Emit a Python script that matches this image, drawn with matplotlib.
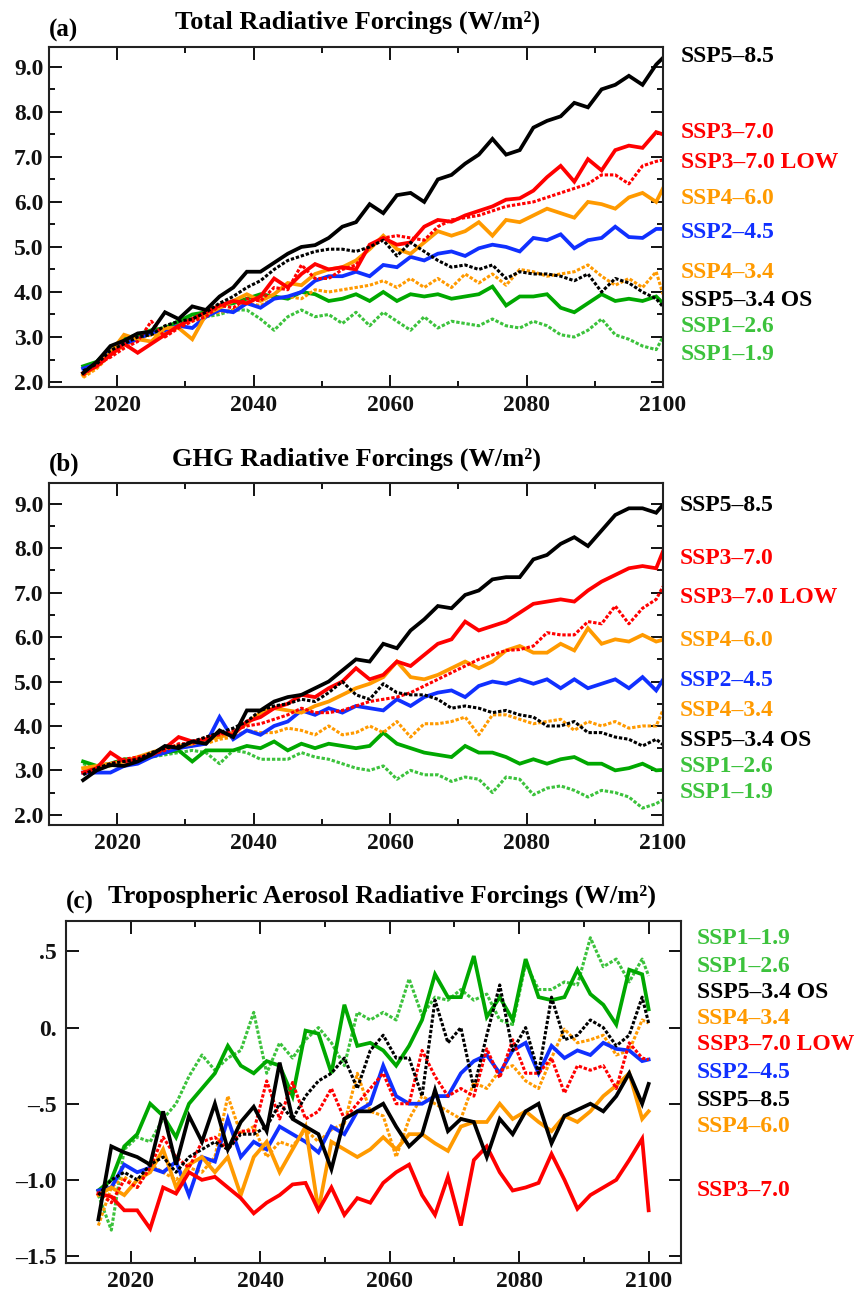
import matplotlib
matplotlib.use("Agg")
import matplotlib.pyplot as plt
from matplotlib.ticker import MultipleLocator, FixedLocator, FixedFormatter

plt.rcParams['font.family'] = ['Liberation Serif', 'DejaVu Serif']
plt.rcParams['font.weight'] = 'bold'

# ---------------- data ----------------
years = list(range(2015, 2100, 2)) + [2100]

# (a) Total radiative forcing
tot_ssp585 = [2.2, 2.45, 2.8, 2.92, 3.08, 3.12, 3.55, 3.4, 3.68, 3.6, 3.9, 4.1, 4.45,
              4.45, 4.65, 4.85, 5.0, 5.04, 5.2, 5.45, 5.55, 5.95, 5.75, 6.15, 6.2, 6.0, 6.5, 6.6,
              6.85, 7.05, 7.4, 7.05, 7.15, 7.65, 7.8, 7.9, 8.2, 8.1, 8.5, 8.6, 8.8, 8.6, 9.05, 9.2]
tot_ssp370 = [2.2, 2.35, 2.6, 2.85, 2.65, 2.85, 3.05, 3.25, 3.4, 3.55, 3.7, 3.8, 3.75,
              3.9, 4.3, 4.1, 4.4, 4.62, 4.5, 4.55, 4.5, 5.05, 5.2, 5.05, 5.1, 5.45, 5.6, 5.56,
              5.7, 5.8, 5.9, 6.05, 6.08, 6.25, 6.55, 6.8, 6.45, 6.95, 6.7, 7.15, 7.25, 7.2, 7.55, 7.5]
tot_ssp370low = [2.15, 2.4, 2.55, 2.75, 2.9, 3.35, 3.0, 3.2, 3.35, 3.45, 3.7, 3.65, 3.85,
                 3.8, 4.1, 4.05, 4.6, 4.3, 4.3, 4.5, 4.6, 5.0, 5.2, 5.25, 5.2, 5.15, 5.45, 5.6,
                 5.65, 5.7, 5.8, 5.9, 5.95, 6.0, 6.1, 6.2, 6.3, 6.4, 6.6, 6.6, 6.4, 6.8, 6.9, 6.93]
tot_ssp460 = [2.15, 2.35, 2.65, 3.05, 2.95, 2.9, 3.2, 3.2, 2.95, 3.5, 3.65, 3.8, 3.95,
              3.8, 3.95, 4.2, 4.15, 4.4, 4.5, 4.55, 4.7, 4.95, 5.25, 4.95, 4.85, 5.1, 5.35, 5.25,
              5.35, 5.55, 5.25, 5.6, 5.55, 5.7, 5.85, 5.75, 5.65, 6.0, 5.95, 5.85, 6.1, 6.2, 6.0, 6.3]
tot_ssp245 = [2.3, 2.4, 2.7, 2.85, 2.95, 3.1, 3.15, 3.25, 3.2, 3.45, 3.6, 3.55, 3.75,
              3.65, 3.85, 3.9, 4.0, 4.25, 4.35, 4.35, 4.45, 4.35, 4.6, 4.55, 4.78, 4.7, 4.85, 4.9,
              4.8, 4.97, 5.05, 5.0, 4.9, 5.2, 5.15, 5.28, 4.97, 5.15, 5.2, 5.45, 5.22, 5.2, 5.4, 5.4]
tot_ssp434 = [2.1, 2.3, 2.6, 2.8, 2.95, 3.05, 3.1, 3.25, 3.35, 3.5, 3.55, 3.6, 3.75,
              3.7, 3.85, 3.9, 3.85, 4.05, 4.0, 4.05, 4.1, 4.15, 4.25, 4.1, 4.3, 4.1, 4.3, 4.1,
              4.4, 4.2, 4.4, 4.15, 4.5, 4.45, 4.35, 4.4, 4.45, 4.6, 4.35, 4.15, 4.3, 4.1, 4.45, 3.95]
tot_ssp534os = [2.25, 2.4, 2.7, 2.85, 3.0, 3.05, 3.25, 3.35, 3.4, 3.55, 3.75, 3.9, 4.1,
                4.25, 4.5, 4.7, 4.8, 4.9, 4.95, 4.95, 4.9, 5.0, 5.15, 4.8, 5.1, 4.9, 4.7, 4.55,
                4.6, 4.5, 4.6, 4.3, 4.45, 4.4, 4.4, 4.35, 4.25, 4.4, 4.0, 4.3, 4.2, 4.0, 3.85, 3.67]
tot_ssp126 = [2.35, 2.45, 2.75, 2.95, 3.05, 3.15, 3.2, 3.35, 3.5, 3.55, 3.7, 3.75, 3.85,
              3.95, 3.9, 3.85, 4.0, 3.95, 3.8, 3.85, 3.95, 3.8, 4.0, 3.8, 3.95, 3.9, 3.95, 3.85,
              3.9, 3.95, 4.12, 3.7, 3.9, 3.9, 3.95, 3.65, 3.55, 3.75, 3.95, 3.8, 3.85, 3.8, 3.9, 3.75]
tot_ssp119 = [2.3, 2.45, 2.7, 2.9, 3.0, 3.1, 3.2, 3.3, 3.4, 3.45, 3.5, 3.6, 3.6,
              3.4, 3.15, 3.45, 3.6, 3.45, 3.5, 3.3, 3.55, 3.25, 3.55, 3.35, 3.15, 3.45, 3.2, 3.35,
              3.3, 3.25, 3.4, 3.25, 3.2, 3.35, 3.25, 3.05, 3.0, 3.15, 3.4, 3.05, 2.95, 2.8, 2.72, 3.0]

# (b) GHG radiative forcing
ghg_ssp585 = [2.78, 3.0, 3.12, 3.1, 3.2, 3.35, 3.55, 3.5, 3.65, 3.6, 3.9, 3.75, 4.35,
              4.35, 4.55, 4.65, 4.7, 4.85, 5.0, 5.25, 5.5, 5.45, 5.85, 5.75, 6.15, 6.4, 6.7, 6.65,
              6.95, 7.05, 7.3, 7.35, 7.35, 7.75, 7.85, 8.1, 8.25, 8.05, 8.4, 8.75, 8.9, 8.9, 8.8, 8.98]
ghg_ssp370 = [2.95, 3.05, 3.4, 3.2, 3.25, 3.35, 3.5, 3.75, 3.65, 3.7, 3.85, 3.8, 4.1,
              4.2, 4.4, 4.5, 4.7, 4.65, 4.85, 5.0, 5.3, 5.05, 5.15, 5.45, 5.35, 5.6, 5.85, 5.95,
              6.35, 6.15, 6.25, 6.35, 6.55, 6.75, 6.8, 6.85, 6.8, 7.05, 7.25, 7.4, 7.55, 7.6, 7.55, 7.93]
ghg_ssp370low = [2.95, 3.0, 3.15, 3.25, 3.3, 3.35, 3.45, 3.6, 3.6, 3.75, 3.8, 3.9, 4.0,
                 4.05, 4.15, 4.25, 4.4, 4.3, 4.3, 4.35, 4.45, 4.55, 4.6, 4.65, 4.75, 4.9, 5.05, 5.2,
                 5.35, 5.5, 5.6, 5.7, 5.72, 5.8, 6.1, 6.05, 6.05, 6.35, 6.3, 6.7, 6.3, 6.65, 6.85, 7.14]
ghg_ssp460 = [3.05, 3.1, 3.15, 3.2, 3.3, 3.4, 3.5, 3.55, 3.6, 3.7, 3.75, 3.85, 4.05,
              4.3, 4.4, 4.35, 4.3, 4.45, 4.55, 4.7, 4.85, 4.95, 5.1, 5.45, 5.1, 5.05, 5.15, 5.3,
              5.45, 5.3, 5.45, 5.7, 5.8, 5.65, 5.65, 5.85, 5.7, 6.2, 5.85, 5.95, 5.9, 6.05, 5.9, 5.94]
ghg_ssp245 = [2.95, 2.95, 2.95, 3.1, 3.15, 3.3, 3.4, 3.5, 3.55, 3.6, 4.2, 3.7, 3.9,
              3.8, 4.0, 4.1, 4.35, 4.25, 4.4, 4.3, 4.45, 4.4, 4.35, 4.6, 4.45, 4.65, 4.75, 4.8,
              4.65, 4.9, 5.0, 4.95, 5.05, 4.95, 5.05, 4.85, 5.05, 4.85, 4.95, 5.05, 4.85, 5.1, 4.8, 5.04]
ghg_ssp434 = [3.0, 3.05, 3.1, 3.15, 3.25, 3.35, 3.4, 3.5, 3.55, 3.6, 3.7, 3.75, 3.9,
              3.85, 3.85, 3.95, 3.9, 3.8, 4.0, 3.8, 3.85, 4.0, 3.85, 4.1, 3.75, 4.05, 4.05, 4.1,
              4.2, 3.8, 4.25, 4.25, 4.15, 4.05, 4.1, 4.15, 3.9, 4.1, 4.0, 4.1, 3.95, 4.0, 4.0, 4.36]
ghg_ssp534os = [2.9, 3.05, 3.15, 3.2, 3.25, 3.4, 3.5, 3.55, 3.65, 3.75, 3.85, 3.95, 4.1,
                4.35, 4.45, 4.5, 4.6, 4.55, 4.75, 5.0, 4.7, 4.6, 4.95, 4.75, 4.7, 4.7, 4.6, 4.4,
                4.45, 4.4, 4.3, 4.35, 4.25, 4.2, 4.0, 4.0, 4.1, 3.85, 3.85, 3.75, 3.7, 3.55, 3.7, 3.58]
ghg_ssp126 = [3.2, 3.1, 3.15, 3.25, 3.25, 3.35, 3.4, 3.45, 3.2, 3.45, 3.45, 3.45, 3.55,
              3.5, 3.65, 3.45, 3.6, 3.5, 3.6, 3.55, 3.5, 3.55, 3.85, 3.6, 3.5, 3.4, 3.35, 3.3,
              3.55, 3.4, 3.4, 3.3, 3.15, 3.25, 3.15, 3.25, 3.3, 3.15, 3.15, 3.0, 3.05, 3.15, 3.0, 3.01]
ghg_ssp119 = [3.15, 3.05, 3.1, 3.2, 3.25, 3.3, 3.35, 3.4, 3.45, 3.4, 3.15, 3.45, 3.4,
              3.25, 3.25, 3.25, 3.4, 3.3, 3.25, 3.15, 3.05, 3.0, 3.1, 2.8, 3.0, 2.9, 2.9, 2.75,
              2.85, 2.8, 2.5, 2.85, 2.8, 2.45, 2.6, 2.65, 2.55, 2.4, 2.55, 2.5, 2.4, 2.15, 2.25, 2.34]

# (c) Tropospheric aerosol radiative forcing
aer_ssp119 = [-1.1, -1.33, -0.8, -0.72, -0.75, -0.6, -0.5, -0.32, -0.18, -0.28, -0.2, -0.15, 0.1,
              -0.3, -0.1, -0.2, -0.08, 0.0, -0.1, -0.25, 0.1, 0.05, 0.1, 0.05, 0.32, 0.08, 0.2, 0.18,
              0.25, 0.18, 0.22, 0.05, 0.02, 0.42, 0.25, 0.25, 0.3, 0.28, 0.59, 0.4, 0.45, 0.3, 0.45, 0.34]
aer_ssp126 = [-1.07, -1.0, -0.78, -0.7, -0.5, -0.58, -0.72, -0.5, -0.4, -0.3, -0.12, -0.25, -0.3,
              -0.22, -0.25, -0.45, -0.02, -0.04, -0.3, 0.15, -0.12, -0.1, -0.15, -0.25, -0.12, 0.05, 0.35, 0.2,
              0.2, 0.47, 0.07, 0.2, 0.05, 0.45, 0.2, 0.18, 0.2, 0.38, 0.22, 0.15, 0.02, 0.38, 0.35, 0.12]
aer_ssp534os = [-1.1, -1.0, -0.95, -1.0, -0.9, -0.85, -0.95, -0.85, -0.8, -0.75, -0.8, -0.7, -0.7,
                -0.65, -0.5, -0.6, -0.45, -0.35, -0.3, -0.2, -0.4, -0.15, -0.05, -0.2, -0.2, -0.45, 0.18, -0.1,
                0.0, -0.4, -0.05, 0.28, -0.15, 0.0, -0.3, 0.2, -0.08, -0.05, 0.05, 0.0, -0.12, -0.05, 0.2, 0.03]
aer_ssp434 = [-1.3, -1.05, -0.98, -1.05, -0.9, -0.95, -1.0, -0.92, -0.95, -0.85, -0.45, -0.7, -0.65,
              -0.85, -0.75, -0.78, -0.67, -0.75, -0.67, -0.63, -0.3, -0.55, -0.58, -0.85, -0.6, -0.45, -0.5, -0.55,
              -0.6, -0.36, -0.4, -0.28, -0.25, -0.35, -0.4, -0.2, -0.01, -0.1, -0.08, -0.05, -0.18, -0.15, 0.05, 0.03]
aer_ssp370low = [-1.08, -1.15, -1.0, -1.05, -0.92, -0.72, -0.85, -0.92, -0.75, -0.72, -0.8, -0.68, -0.68,
                 -0.35, -0.6, -0.36, -0.6, -0.55, -0.4, -0.6, -0.5, -0.4, -0.3, -0.5, -0.5, -0.15, -0.32, -0.45,
                 -0.4, -0.45, -0.14, -0.33, -0.08, -0.3, -0.3, -0.2, -0.43, -0.25, -0.28, -0.25, -0.4, -0.1, -0.2, -0.21]
aer_ssp245 = [-1.07, -1.05, -0.9, -0.95, -0.92, -0.95, -0.88, -1.1, -0.85, -0.88, -0.6, -0.85, -0.75,
              -0.8, -0.65, -0.7, -0.75, -0.82, -0.65, -0.7, -0.55, -0.5, -0.25, -0.45, -0.5, -0.5, -0.45, -0.45,
              -0.3, -0.22, -0.18, -0.3, -0.15, -0.1, -0.3, -0.12, -0.2, -0.15, -0.18, -0.1, -0.14, -0.15, -0.22, -0.21]
aer_ssp585 = [-1.26, -0.78, -0.82, -0.85, -0.9, -0.55, -0.9, -0.58, -0.75, -0.5, -0.8, -0.62, -0.52,
              -0.68, -0.23, -0.6, -0.65, -0.7, -0.93, -0.6, -0.55, -0.55, -0.5, -0.65, -0.78, -0.7, -0.41, -0.68,
              -0.6, -0.62, -0.85, -0.6, -0.7, -0.55, -0.5, -0.76, -0.58, -0.54, -0.5, -0.55, -0.45, -0.3, -0.5, -0.37]
aer_ssp460 = [-1.1, -1.05, -1.1, -1.0, -0.95, -0.8, -1.05, -0.9, -0.85, -0.95, -0.85, -1.1, -0.85,
              -0.75, -0.95, -0.8, -0.65, -1.2, -0.75, -0.8, -0.85, -0.8, -0.72, -0.8, -0.7, -0.7, -0.76, -0.81,
              -0.65, -0.62, -0.62, -0.5, -0.6, -0.55, -0.62, -0.68, -0.58, -0.62, -0.55, -0.45, -0.38, -0.3, -0.6, -0.55]
aer_ssp370 = [-1.09, -1.11, -1.2, -1.2, -1.32, -1.05, -1.09, -0.95, -1.0, -0.98, -1.05, -1.12, -1.22,
              -1.15, -1.1, -1.03, -1.02, -1.2, -1.05, -1.23, -1.12, -1.15, -1.02, -0.95, -0.9, -1.1, -1.23, -0.98,
              -1.3, -0.87, -0.78, -0.95, -1.07, -1.05, -1.02, -0.83, -1.0, -1.19, -1.1, -1.05, -1.0, -0.87, -0.73, -1.2]

scenario_names = ["SSP1\u20131.9", "SSP1\u20132.6", "SSP4\u20133.4", "SSP2\u20134.5", "SSP4\u20136.0",
                  "SSP3\u20137.0 LOW", "SSP3\u20137.0", "SSP5\u20133.4 OS", "SSP5\u20138.5"]

# ---------------- styles ----------------
GREEN = "#00a800"
LGREEN = "#3cc23c"
ORANGE = "#ff9a00"
BLUE = "#1030ff"
RED = "#ff0000"
BLACK = "#000000"
DOT = (0, (1.1, 0.6))
style = {
    "SSP1\u20131.9": (LGREEN, DOT, 2.2),
    "SSP1\u20132.6": (GREEN, "-", 2.7),
    "SSP4\u20133.4": (ORANGE, DOT, 2.2),
    "SSP2\u20134.5": (BLUE, "-", 2.7),
    "SSP4\u20136.0": (ORANGE, "-", 2.7),
    "SSP3\u20137.0 LOW": (RED, DOT, 2.2),
    "SSP3\u20137.0": (RED, "-", 2.7),
    "SSP5\u20133.4 OS": (BLACK, DOT, 2.2),
    "SSP5\u20138.5": (BLACK, "-", 2.7),
}
label_color = {
    "SSP1\u20131.9": LGREEN, "SSP1\u20132.6": LGREEN, "SSP4\u20133.4": ORANGE,
    "SSP2\u20134.5": BLUE, "SSP4\u20136.0": ORANGE, "SSP3\u20137.0 LOW": RED,
    "SSP3\u20137.0": RED, "SSP5\u20133.4 OS": BLACK, "SSP5\u20138.5": BLACK,
}

W, H = 858, 1291
fig = plt.figure(figsize=(W / 100, H / 100), dpi=100)


def px_axes(l, t, r, b):
    return fig.add_axes([l / W, 1 - b / H, (r - l) / W, (b - t) / H])


def style_axes(ax):
    for s in ax.spines.values():
        s.set_linewidth(1.5)
        s.set_color("#222222")
    ax.tick_params(which="both", direction="in", top=True, right=True, width=1.4,
                   labelsize=17, colors="#111111")
    ax.tick_params(which="major", length=9)
    ax.tick_params(which="minor", length=4.5)
    ax.tick_params(axis="y", pad=4)
    ax.tick_params(axis="x", pad=6)
    for lab in ax.get_xticklabels() + ax.get_yticklabels():
        lab.set_fontweight("bold")


def plot_panel(ax, data):
    for name in scenario_names:
        c, ls, lw = style[name]
        ax.plot(years, data[name], color=c, linestyle=ls, linewidth=lw, solid_joinstyle="miter")


# ---- panel (a)
axa = px_axes(49, 47, 663, 387)
plot_panel(axa, {
    "SSP1\u20131.9": tot_ssp119, "SSP1\u20132.6": tot_ssp126, "SSP4\u20133.4": tot_ssp434,
    "SSP2\u20134.5": tot_ssp245, "SSP4\u20136.0": tot_ssp460, "SSP3\u20137.0 LOW": tot_ssp370low,
    "SSP3\u20137.0": tot_ssp370, "SSP5\u20133.4 OS": tot_ssp534os, "SSP5\u20138.5": tot_ssp585})
axa.set_xlim(2010, 2100)
axa.set_ylim(1.89, 9.44)

# ---- panel (b)
axb = px_axes(49, 483, 663, 825)
plot_panel(axb, {
    "SSP1\u20131.9": ghg_ssp119, "SSP1\u20132.6": ghg_ssp126, "SSP4\u20133.4": ghg_ssp434,
    "SSP2\u20134.5": ghg_ssp245, "SSP4\u20136.0": ghg_ssp460, "SSP3\u20137.0 LOW": ghg_ssp370low,
    "SSP3\u20137.0": ghg_ssp370, "SSP5\u20133.4 OS": ghg_ssp534os, "SSP5\u20138.5": ghg_ssp585})
axb.set_xlim(2010, 2100)
axb.set_ylim(1.77, 9.47)

for ax in (axa, axb):
    ax.xaxis.set_major_locator(FixedLocator([2020, 2040, 2060, 2080, 2100]))
    ax.xaxis.set_minor_locator(FixedLocator([2030, 2050, 2070, 2090]))
    ax.yaxis.set_major_locator(FixedLocator([2, 3, 4, 5, 6, 7, 8, 9]))
    ax.yaxis.set_major_formatter(FixedFormatter(["2.0", "3.0", "4.0", "5.0", "6.0", "7.0", "8.0", "9.0"]))
    ax.yaxis.set_minor_locator(MultipleLocator(0.5))
    style_axes(ax)

# ---- panel (c)
axc = px_axes(66, 921, 681, 1263)
plot_panel(axc, {
    "SSP1\u20131.9": aer_ssp119, "SSP1\u20132.6": aer_ssp126, "SSP4\u20133.4": aer_ssp434,
    "SSP2\u20134.5": aer_ssp245, "SSP4\u20136.0": aer_ssp460, "SSP3\u20137.0 LOW": aer_ssp370low,
    "SSP3\u20137.0": aer_ssp370, "SSP5\u20133.4 OS": aer_ssp534os, "SSP5\u20138.5": aer_ssp585})
axc.set_xlim(2010, 2105)
axc.set_ylim(-1.546, 0.70)
axc.xaxis.set_major_locator(FixedLocator([2020, 2040, 2060, 2080, 2100]))
axc.xaxis.set_minor_locator(FixedLocator([2030, 2050, 2070, 2090]))
axc.yaxis.set_major_locator(FixedLocator([-1.5, -1.0, -0.5, 0.0, 0.5]))
axc.yaxis.set_major_formatter(FixedFormatter(["\u20131.5", "\u20131.0", "\u2013.5", "0.", ".5"]))
style_axes(axc)
axc.tick_params(axis="y", pad=7)

# ---- titles
def ftext(x, y, s, **kw):
    fig.text(x / W, 1 - y / H, s, fontweight="bold", **kw)

ftext(49, 30, "(a)", fontsize=18, ha="left", va="center")
ftext(358, 22, "Total Radiative Forcings (W/m\u00b2)", fontsize=19, ha="center", va="center")
ftext(49, 464, "(b)", fontsize=18, ha="left", va="center")
ftext(357, 459, "GHG Radiative Forcings (W/m\u00b2)", fontsize=19, ha="center", va="center")
ftext(66, 902, "(c)", fontsize=18, ha="left", va="center")
ftext(382, 896, "Tropospheric Aerosol Radiative Forcings (W/m\u00b2)", fontsize=19, ha="center", va="center")

# ---- right-hand labels
labels_a = [("SSP5\u20138.5", 57), ("SSP3\u20137.0", 133), ("SSP3\u20137.0 LOW", 163),
            ("SSP4\u20136.0", 198), ("SSP2\u20134.5", 233), ("SSP4\u20133.4", 273),
            ("SSP5\u20133.4 OS", 300), ("SSP1\u20132.6", 326), ("SSP1\u20131.9", 355)]
labels_b = [("SSP5\u20138.5", 505), ("SSP3\u20137.0", 558), ("SSP3\u20137.0 LOW", 598),
            ("SSP4\u20136.0", 640), ("SSP2\u20134.5", 681), ("SSP4\u20133.4", 711),
            ("SSP5\u20133.4 OS", 740), ("SSP1\u20132.6", 767), ("SSP1\u20131.9", 793)]
labels_c = [("SSP1\u20131.9", 938), ("SSP1\u20132.6", 966), ("SSP5\u20133.4 OS", 992),
            ("SSP4\u20133.4", 1019), ("SSP3\u20137.0 LOW", 1045), ("SSP2\u20134.5", 1072),
            ("SSP5\u20138.5", 1100), ("SSP4\u20136.0", 1126), ("SSP3\u20137.0", 1190)]
for lst, x0 in ((labels_a, 681), (labels_b, 680), (labels_c, 697)):
    for name, yy in lst:
        ftext(x0, yy, name, fontsize=17, ha="left", va="center", color=label_color[name])

fig.savefig("out.png", dpi=100)
